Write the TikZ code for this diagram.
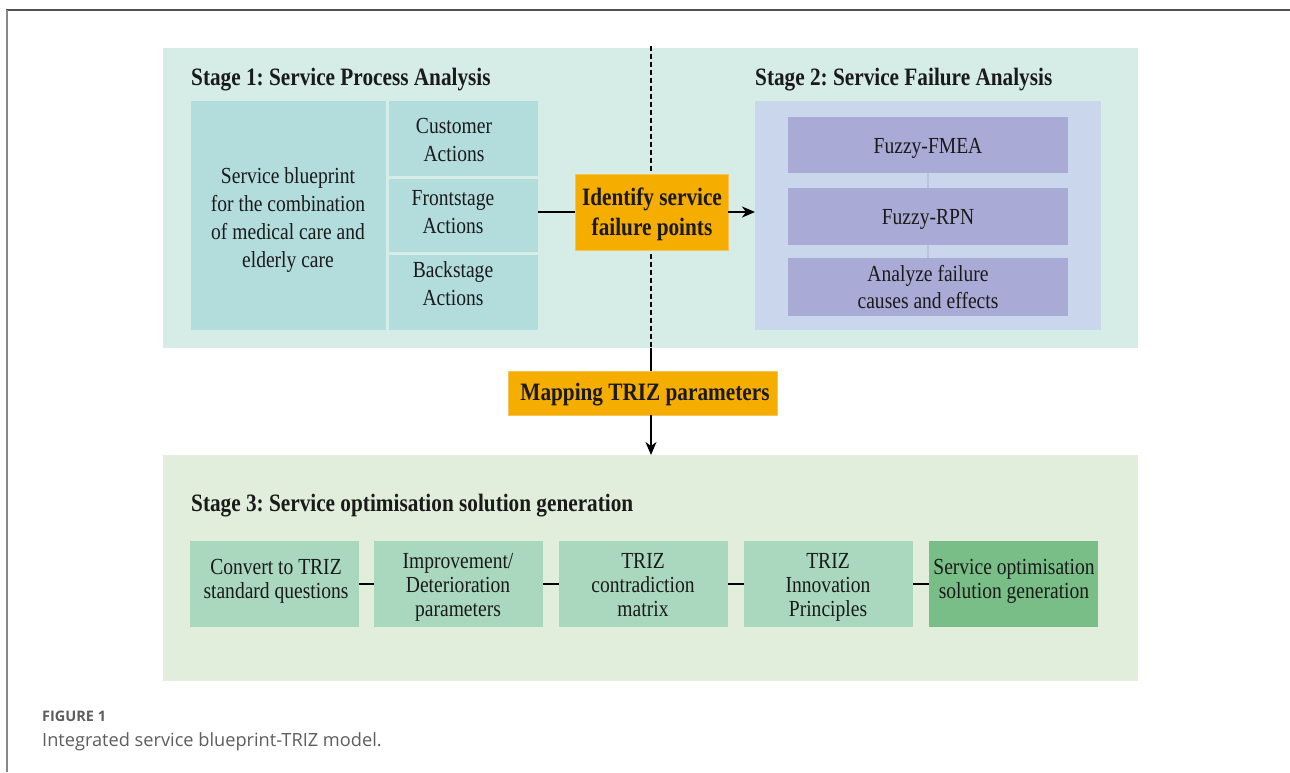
\documentclass[tikz,border=0pt]{standalone}
\usepackage{fontspec}
\setmainfont{Liberation Serif}[FakeStretch=0.85]
\newfontfamily\capfont{Open Sans}
\usetikzlibrary{arrows.meta}
\definecolor{sonebg}{HTML}{D5EDE6}
\definecolor{bpfill}{HTML}{B3DCDD}
\definecolor{stwoin}{HTML}{C9D6EC}
\definecolor{fzfill}{HTML}{AAAAD6}
\definecolor{fzline}{HTML}{BCC1E0}
\definecolor{orng}{HTML}{F5AD00}
\definecolor{orngedge}{HTML}{F8C455}
\definecolor{sthreebg}{HTML}{E1EEDB}
\definecolor{gfill}{HTML}{A9D8BE}
\definecolor{dgfill}{HTML}{78BE86}
\definecolor{txtc}{HTML}{1A1A1A}
\definecolor{capgray}{HTML}{5E5E5E}
\definecolor{framegray}{HTML}{505050}
\definecolor{framegrayb}{HTML}{888888}
\newcommand{\mkbox}[6]{\node[panel,#6,minimum width={#4-#2},minimum height={#5-#3}] (#1) at ({(#2+#4)/2},{(#3+#5)/2}) {};}
\frenchspacing
\begin{document}
\frenchspacing
\begin{tikzpicture}[x=1pt,y=-1pt,
  panel/.style={inner sep=0pt,outer sep=0pt,draw=none},
  lbl/.style={inner sep=0pt,align=center,anchor=base,text=txtc,font=\fontsize{23}{28}\selectfont},
  ttl/.style={inner sep=0pt,anchor=base west,text=txtc,font=\bfseries\fontsize{25}{30}\selectfont},
  conn/.style={line width=2.2pt,draw=black},
  tip/.style={-{Stealth[length=13pt,width=11pt,inset=4pt]}}]
\useasboundingbox (0,0) rectangle (1290,772);
\fill[white] (0,0) rectangle (1290,772);
% frame
\draw[framegray,line width=1.6pt] (6,10) -- (1290,10);
\draw[framegrayb,line width=2pt] (7,10) -- (7,772);
% backgrounds
\mkbox{sone}{163}{48}{1138}{348}{fill=sonebg}
\mkbox{sthree}{163}{455}{1138}{681}{fill=sthreebg}
\coordinate (dtop) at (651,46);
\coordinate (dbot) at (651,348);
\draw[black,line width=1.3pt,dash pattern=on 5pt off 3pt] (dtop) -- (dbot);
% stage 1 boxes
\mkbox{bp}{191}{101}{386}{330}{fill=bpfill}
\mkbox{cust}{389}{101}{538}{176}{fill=bpfill}
\mkbox{front}{389}{179}{538}{252}{fill=bpfill}
\mkbox{back}{389}{255}{538}{330}{fill=bpfill}
% stage 2 boxes
\mkbox{stwo}{755}{101}{1101}{330}{fill=stwoin}
\mkbox{fmea}{788}{117}{1068}{173}{fill=fzfill}
\mkbox{rpn}{788}{188}{1068}{245}{fill=fzfill}
\mkbox{anal}{788}{258}{1068}{316}{fill=fzfill}
% orange boxes
\mkbox{ident}{575}{174}{728}{250}{fill=orng,draw=orngedge,line width=1pt}
\mkbox{map}{508}{371}{777}{415}{fill=orng,draw=orngedge,line width=1pt}
% stage 3 boxes
\mkbox{bA}{190}{541}{359}{627}{fill=gfill}
\mkbox{bB}{374}{541}{543}{627}{fill=gfill}
\mkbox{bC}{559}{541}{728}{627}{fill=gfill}
\mkbox{bD}{744}{541}{913}{627}{fill=gfill}
\mkbox{bE}{929}{541}{1098}{627}{fill=dgfill}
% titles
\node[ttl] (tone) at (191,85) {Stage 1: Service Process Analysis};
\node[ttl] (ttwo) at (755,85) {Stage 2: Service Failure Analysis};
\node[ttl] (tthree) at (191,511) {Stage 3: Service optimisation solution generation};
% labels (anchor = baseline of last line)
\node[lbl] (bptext) at (288,267) {Service blueprint\\for the combination\\of medical care and\\elderly care};
\node[lbl] (custtext) at (454,161) {Customer\\Actions};
\node[lbl] (fronttext) at (453,233) {Frontstage\\Actions};
\node[lbl] (backtext) at (453,305) {Backstage\\Actions};
\node[lbl,font=\bfseries\fontsize{25}{30}\selectfont] (identtext) at (652,235) {Identify service\\failure points};
\node[lbl,font=\bfseries\fontsize{25}{30}\selectfont] (maptext) at (645,400) {Mapping TRIZ parameters};
\node[lbl] (fmeatext) at (928,153) {Fuzzy-FMEA};
\node[lbl] (rpntext) at (928,224) {Fuzzy-RPN};
\node[lbl,font=\fontsize{23}{27}\selectfont] (analtext) at (928,308) {Analyze failure\\causes and effects};
\node[lbl,font=\fontsize{23}{24}\selectfont] (tA) at (276,598) {Convert to TRIZ\\standard questions};
\node[lbl,font=\fontsize{23}{24}\selectfont] (tB) at (458,616) {Improvement/\\Deterioration\\parameters};
\node[lbl,font=\fontsize{23}{24}\selectfont] (tC) at (643,616) {TRIZ\\contradiction\\matrix};
\node[lbl,font=\fontsize{23}{24}\selectfont] (tD) at (828,616) {TRIZ\\Innovation\\Principles};
\node[lbl,font=\fontsize{23}{24}\selectfont] (tE) at (1014,598) {Service optimisation\\solution generation};
% connectors
\draw[conn] (ident.west -| front.east) -- (ident.west);
\draw[conn,tip] (ident.east) -- (ident.east -| stwo.west);
\draw[fzline,line width=2pt] (fmea.south) -- (rpn.north);
\draw[fzline,line width=2pt] (rpn.south) -- (anal.north);
\draw[black,line width=1.3pt] (dbot) -- (dtop |- map.north);
\draw[black,line width=1.6pt,tip] (dtop |- map.south) -- (dtop |- sthree.north);
\draw[black,line width=1.6pt] (bA.east) -- (bB.west);
\draw[black,line width=1.6pt] (bB.east) -- (bC.west);
\draw[black,line width=1.6pt] (bC.east) -- (bD.west);
\draw[black,line width=1.6pt] (bD.east) -- (bE.west);
% caption
\node[inner sep=0pt,anchor=base west,text=capgray,font=\capfont\bfseries\fontsize{14.5}{16}\selectfont] (figno) at (42,721) {FIGURE 1};
\node[inner sep=0pt,anchor=base west,text=capgray,font=\capfont\fontsize{18.2}{22}\selectfont] (cap) at (42,746) {Integrated service blueprint-TRIZ model.};
\end{tikzpicture}
\end{document}
